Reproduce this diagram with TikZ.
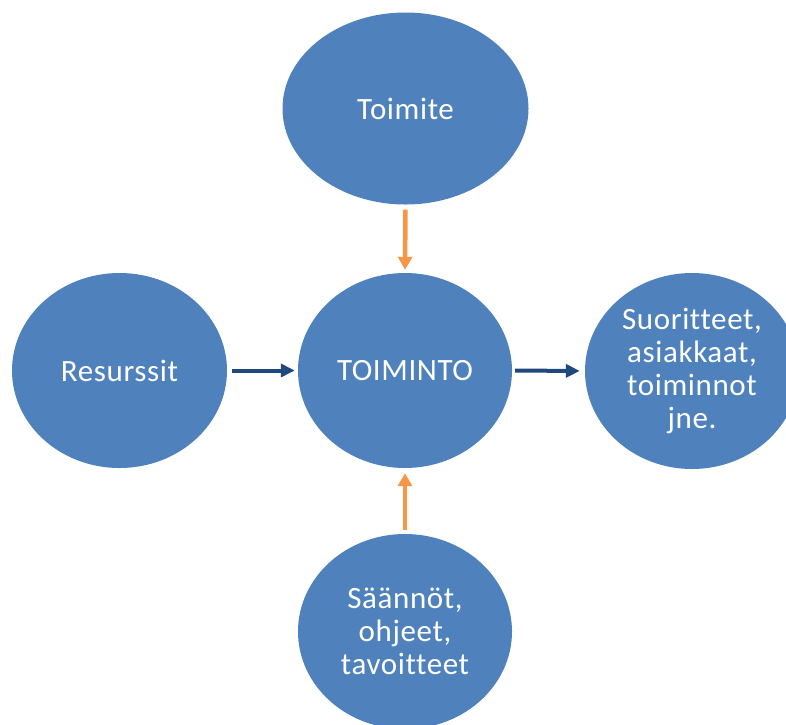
\documentclass[tikz,border=0pt]{standalone}
\usepackage{fontspec}
\setmainfont{Carlito}[Ligatures=NoCommon, LetterSpace=2]
\usetikzlibrary{shapes.geometric, arrows.meta}
\definecolor{bubbleblue}{HTML}{4F81BD}
\definecolor{inorange}{HTML}{F79646}
\definecolor{flownavy}{HTML}{1F497D}
\tikzstyle{bubble} = [ellipse, fill=bubbleblue, text=white, align=center, inner sep=0pt, font=\fontsize{31}{33}\selectfont]
\tikzstyle{arrowin} = [line width=4.5pt, draw=inorange, -{Triangle[length=13pt,width=14pt]}]
\tikzstyle{arrowflow} = [line width=4pt, draw=flownavy, -{Triangle[length=14pt,width=13pt]}]

\begin{document}
\begin{tikzpicture}[x=1pt, y=-1pt]
\clip (0,0) rectangle (786,724);

\node (toimite) [bubble, minimum width=246pt, minimum height=192pt] at (405.5,108.5) {Toimite};
\node (toiminto) [bubble, minimum width=214pt, minimum height=195pt] at (405,370.5) {TOIMINTO};
\node (resurssit) [bubble, minimum width=215pt, minimum height=195pt] at (119.5,370.5) {Resurssit};
\node (suoritteet) [bubble, minimum width=214pt, minimum height=196pt] at (692,371) {Suoritteet,\\asiakkaat,\\toiminnot\\jne.};
\node (saannot) [bubble, minimum width=214pt, minimum height=195pt] at (405,631.5) {Säännöt,\\ohjeet,\\tavoitteet};

\draw [arrowin, shorten <=5pt, shorten >=3pt] (toimite.south) -- (toiminto.north);
\draw [arrowin, shorten <=4pt, shorten >=5pt] (saannot.north) -- (toiminto.south);
\draw [arrowflow, shorten <=5pt, shorten >=3pt] (resurssit.east) -- (toiminto.west);
\draw [arrowflow, shorten <=3pt, shorten >=5pt] (toiminto.east) -- (suoritteet.west);
\end{tikzpicture}
\end{document}
